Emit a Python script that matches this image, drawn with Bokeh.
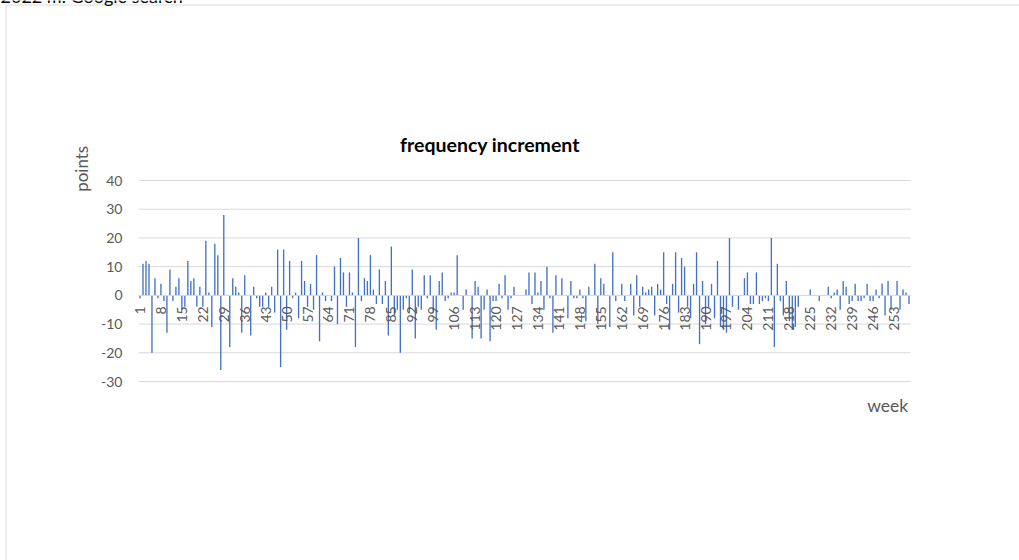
import math
from bokeh.plotting import figure
from bokeh.models import (ColumnDataSource, Range1d, LinearAxis, FixedTicker,
                          Label, BoxAnnotation)
from bokeh.embed import file_html
from bokeh.resources import INLINE

# ---------------- data ----------------
weeks = list(range(1, 259))
values = [
    -1, 11, 12, 11, -20, 6, -1, 4, -2, -13,
    9, -2, 3, 6, -5, -4, 12, 5, 6, -4,
    3, -4, 19, 1, -11, 18, 14, -26, 28, 0,
    -18, 6, 3, 1, -13, 7, 0, -14, 3, -1,
    -4, -4, 1, -4, 3, -6, 16, -25, 16, -12,
    12, -1, 1, -8, 12, 5, -4, 4, -5, 14,
    -16, 1, -2, 0, -2, 10, -10, 13, 8, -4,
    8, 1, -18, 20, -2, 6, 5, 14, 2, -3,
    9, -3, 5, -14, 17, -7, -5, -20, -5, -1,
    -6, 9, -15, -4, -5, 7, -1, 7, -6, -12,
    5, 8, -2, -1, 1, 1, 14, 0, -5, 2,
    0, -15, 5, 3, -15, -5, 2, -16, -2, -2,
    4, -1, 7, -5, -1, 3, 0, 0, 0, 2,
    8, -3, 8, 1, 5, -5, 10, -1, -13, 7,
    0, 6, 0, -8, 5, -1, -1, 2, -1, -9,
    3, 0, 11, -10, 6, 4, 0, -11, 15, -2,
    0, 4, -2, 0, 4, -7, 7, -4, 3, 1,
    2, 3, -7, 4, 2, 15, -3, -12, 4, 15,
    -6, 13, 10, -4, -8, 4, 15, -17, 5, -10,
    -4, 4, -8, 12, -11, -12, -13, 20, -4, 0,
    -5, 0, 6, 8, -3, -3, 8, -3, -2, -1,
    -2, 20, -18, 11, -2, -7, 5, -9, -12, -11,
    -4, 0, 0, 0, 2, 0, 0, -2, 0, 0,
    3, -1, 1, 2, -5, 5, 3, -3, -2, 4,
    -2, -2, -1, 4, -2, -2, 2, -1, 4, -7,
    5, -5, 0, 5, -5, 2, 1, -3,
]
x_ticks = [1, 8, 15, 22, 29, 36, 43, 50, 57, 64, 71, 78, 85, 92, 99, 106, 113,
           120, 127, 134, 141, 148, 155, 162, 169, 176, 183, 190, 197, 204,
           211, 218, 225, 232, 239, 246, 253]
y_ticks = [-30, -20, -10, 0, 10, 20, 30, 40]
title_text = "frequency increment"
y_title = "points"
x_title = "week"
top_text = "2022 m. Google search"

# ---------------- layout (page pixels) ----------------
W, H = 1019, 560
PX0, PX1 = 138, 910          # plot area left / right
PY0, PY1 = 180, 381          # plot area top / bottom
XA, XB = 0.5, len(weeks) + 0.5
YA, YB = min(y_ticks), max(y_ticks)
sx = (PX1 - PX0) / (XB - XA)
sy = (PY1 - PY0) / (YB - YA)
x_start = XA - PX0 / sx
y_end = YB + PY0 / sy
BASE_FIX = 7  # renderer draws alphabetic baselines lower than asked


def dx(px):
    return x_start + px / sx


def dy(py):
    return y_end - py / sy


FONT = "Lato"
GREY = "#595959"

p = figure(width=W, height=H,
           x_range=Range1d(x_start, x_start + W / sx),
           y_range=Range1d(y_end - H / sy, y_end),
           x_axis_type=None, y_axis_type=None, output_backend="svg",
           toolbar_location=None, min_border=0, min_border_left=0,
           min_border_right=0, min_border_top=0, min_border_bottom=0,
           outline_line_color=None, background_fill_color="white",
           border_fill_color="white")
p.xgrid.visible = False
p.ygrid.visible = False

# horizontal gridlines across the plot area
p.segment(x0=[XA] * len(y_ticks), x1=[XB] * len(y_ticks), y0=y_ticks,
          y1=y_ticks, line_color="#d9d9d9", line_width=1)

src = ColumnDataSource(dict(week=weeks, value=values))
p.vbar(x="week", top="value", bottom=0, width=0.45, source=src,
       fill_color="#4472C4", line_color=None)

yaxis = LinearAxis(ticker=FixedTicker(ticks=y_ticks), fixed_location=XA)
yaxis.axis_line_color = None
yaxis.major_tick_line_color = None
yaxis.minor_tick_line_color = None
yaxis.major_tick_out = 0
yaxis.major_tick_in = 0
yaxis.major_label_standoff = 16
yaxis.major_label_overrides = {t: str(t) for t in y_ticks}
yaxis.major_label_text_font = FONT
yaxis.major_label_text_font_size = "14px"
yaxis.major_label_text_color = GREY
p.add_layout(yaxis, "left")

xaxis = LinearAxis(ticker=FixedTicker(ticks=x_ticks), fixed_location=0,
                   bounds=(XA, XB))
xaxis.axis_line_color = "#d9d9d9"
xaxis.axis_line_width = 1
xaxis.major_tick_line_color = None
xaxis.minor_tick_line_color = None
xaxis.major_tick_out = 0
xaxis.major_tick_in = 0
xaxis.major_label_standoff = 11
xaxis.major_label_orientation = math.pi / 2
xaxis.major_label_text_font = FONT
xaxis.major_label_text_font_size = "14px"
xaxis.major_label_text_color = GREY
p.add_layout(xaxis, "below")

# chart-area border (only its left and top edges are inside the window)
p.add_layout(BoxAnnotation(left=dx(5.5), right=dx(1100), top=dy(4.5),
                           bottom=dy(700), fill_color=None,
                           line_color="#8c8c8c", line_width=1))

p.add_layout(Label(x=dx(0), y=dy(2.7 - BASE_FIX), text=top_text,
                   text_font=FONT, text_font_size="18px",
                   text_color="#000000", text_align="left",
                   text_baseline="alphabetic"))
p.add_layout(Label(x=dx(489.5), y=dy(150.7 - BASE_FIX), text=title_text,
                   text_font=FONT, text_font_style="bold",
                   text_font_size="19.5px", text_color="#000000",
                   text_align="center", text_baseline="alphabetic"))
p.add_layout(Label(x=dx(80.7), y=dy(168.3), text=y_title, angle=math.pi / 2,
                   text_font=FONT, text_font_size="17px", text_color=GREY,
                   text_align="center", text_baseline="middle"))
p.add_layout(Label(x=dx(907.7), y=dy(411.7 - BASE_FIX), text=x_title,
                   text_font=FONT, text_font_size="17.5px", text_color=GREY,
                   text_align="right", text_baseline="alphabetic"))

open("out.html", "w").write(file_html(p, INLINE))
